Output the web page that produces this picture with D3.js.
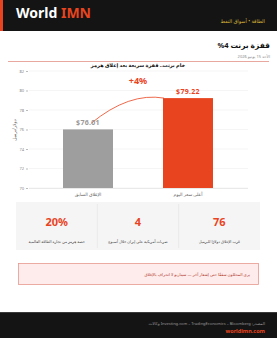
<!DOCTYPE html>
<html><head><meta charset="utf-8">
<script src="https://cdn.jsdelivr.net/npm/d3@7/dist/d3.min.js"></script>
<style>
html,body{margin:0;padding:0;background:#fff;}
svg{display:block;}
</style></head>
<body>
<svg id="c" width="277" height="338"></svg>
<script>
const categories = ["الإغلاق السابق", "أعلى سعر اليوم"];
const values = [76.01, 79.22];
const barLabels = ["$76.01", "$79.22"];
const yTicks = [70, 72, 74, 76, 78, 80, 82];
const statValues = ["20%", "4", "76"];
const statLabels = ["حصة هرمز من تجارة الطاقة العالمية", "ضربات أمريكية على إيران خلال أسبوع", "قرب الإغلاق دولارًا للبرميل"];
const changeLabel = "+4%";

const svg = d3.select("#c");
const F = "'Noto Sans', 'DejaVu Sans', sans-serif";
const RED = "#e8441f";

function rtl(sel){ return sel.attr("direction","rtl").attr("text-anchor","start"); }

// header
svg.append("rect").attr("x",0).attr("y",0).attr("width",277).attr("height",31).attr("fill","#141414");
svg.append("rect").attr("x",0).attr("y",0).attr("width",3).attr("height",31).attr("fill",RED);
const logo = svg.append("text").attr("x",16).attr("y",18).attr("font-family",F).attr("font-weight","bold").attr("font-size",14);
logo.append("tspan").attr("fill","#fff").text("World ");
logo.append("tspan").attr("fill",RED).text("IMN");
rtl(svg.append("text")).attr("x",265).attr("y",23).attr("font-family",F).attr("font-size",5).attr("fill","#d9b43a").text("الطاقة • أسواق النفط");

// title
rtl(svg.append("text")).attr("x",270).attr("y",48).attr("font-family",F).attr("font-weight","bold").attr("font-size",7.5).attr("fill","#111").text("قفزة برنت 4%");
rtl(svg.append("text")).attr("x",270).attr("y",57.5).attr("font-family",F).attr("font-size",4).attr("fill","#888").text("الأحد 15 يونيو 2026");
svg.append("line").attr("x1",8).attr("x2",269).attr("y1",61.5).attr("y2",61.5).attr("stroke","#e8a8a0").attr("stroke-width",1);

svg.append("text").attr("x",138).attr("y",67).attr("text-anchor","middle").attr("font-family",F).attr("font-weight","bold").attr("font-size",5).attr("fill","#111").text("خام برنت.. قفزة سريعة بعد إغلاق هرمز");

// chart
const y = d3.scaleLinear().domain([70, 82]).range([188, 71]);
const x = d3.scaleBand().domain(categories).range([38, 238]).paddingInner(0.5).paddingOuter(0.25);

const grid = svg.append("g");
grid.selectAll("line").data(yTicks).join("line")
  .attr("x1",29).attr("x2",248).attr("y1",d=>y(d)).attr("y2",d=>y(d))
  .attr("stroke","#eeeeee").attr("stroke-width",0.6);

const yAxis = d3.axisLeft(y).tickValues(yTicks).tickSize(2).tickPadding(2);
const ya = svg.append("g").attr("transform","translate(28,0)").call(yAxis);
ya.select(".domain").remove();
ya.selectAll("line").attr("stroke","#bbb");
ya.selectAll("text").attr("font-family",F).attr("font-size",4).attr("fill","#888");

svg.append("text").attr("transform","translate(16,130) rotate(-90)").attr("text-anchor","middle")
  .attr("font-family",F).attr("font-size",4.5).attr("fill","#555").text("دولار/برميل");

const colors = ["#9e9e9e", RED];
svg.selectAll("rect.bar").data(values).join("rect").attr("class","bar")
  .attr("x",(d,i)=>x(categories[i])).attr("width",x.bandwidth())
  .attr("y",d=>y(d)).attr("height",d=>y(70)-y(d))
  .attr("fill",(d,i)=>colors[i]);

svg.append("line").attr("x1",29).attr("x2",248).attr("y1",y(70)+0.5).attr("y2",y(70)+0.5).attr("stroke","#ddd").attr("stroke-width",0.6);

svg.selectAll("text.xl").data(categories).join("text").attr("class","xl")
  .attr("x",d=>x(d)+x.bandwidth()/2).attr("y",196).attr("text-anchor","middle")
  .attr("font-family",F).attr("font-size",4.5).attr("fill","#666").text(d=>d);

// curve
const x0 = x(categories[0]) + x.bandwidth()/2 + 3, y0 = y(values[0]) - 6;
const x1 = x(categories[1]) + 1, y1 = y(values[1]);
const p = d3.path();
p.moveTo(x0, y0);
p.quadraticCurveTo(x0 + 38, y1 - 6, x1, y1);
svg.append("path").attr("d", p.toString()).attr("fill","none").attr("stroke",RED).attr("stroke-width",0.8);

svg.selectAll("text.bl").data(values).join("text").attr("class","bl")
  .attr("x",(d,i)=>x(categories[i])+x.bandwidth()/2).attr("y",d=>y(d)-4).attr("text-anchor","middle")
  .attr("font-family",F).attr("font-weight","bold").attr("font-size",7).attr("letter-spacing",0.3)
  .attr("fill",(d,i)=>i===0?"#999":RED).text((d,i)=>barLabels[i]);

svg.append("text").attr("x",138).attr("y",84).attr("text-anchor","middle").attr("font-family",F)
  .attr("font-weight","bold").attr("font-size",9).attr("fill",RED).text(changeLabel);

// stats
svg.append("rect").attr("x",16).attr("y",202).attr("width",244).attr("height",48).attr("fill","#f5f5f5");
const cellW = 244/3;
[1,2].forEach(i=>svg.append("line").attr("x1",16+cellW*i).attr("x2",16+cellW*i).attr("y1",204).attr("y2",248).attr("stroke","#e2e2e2").attr("stroke-width",0.6));
statValues.forEach((v,i)=>{
  const cx = 16 + cellW*i + cellW/2;
  svg.append("text").attr("x",cx).attr("y",226).attr("text-anchor","middle").attr("font-family",F)
    .attr("font-weight","bold").attr("font-size",11).attr("fill",RED).text(v);
  svg.append("text").attr("x",cx).attr("y",243).attr("text-anchor","middle").attr("font-family",F)
    .attr("font-size",3.8).attr("fill","#444").text(statLabels[i]);
});

// alert
svg.append("rect").attr("x",18.5).attr("y",263.5).attr("width",240).attr("height",21).attr("fill","#fdeceb").attr("stroke","#e69a90").attr("stroke-width",0.8);
rtl(svg.append("text")).attr("x",250).attr("y",276).attr("font-family",F).attr("font-size",4).attr("fill","#b0332a")
  .text("يرى المحللون سقفًا حتى إشعار آخر — سيناريو لا انحراف بالإغلاق");

// footer
svg.append("rect").attr("x",0).attr("y",312).attr("width",277).attr("height",26).attr("fill","#141414");
svg.append("line").attr("x1",0).attr("x2",277).attr("y1",312.5).attr("y2",312.5).attr("stroke","#444").attr("stroke-width",0.8);
rtl(svg.append("text")).attr("x",265).attr("y",325).attr("font-family",F).attr("font-size",4).attr("fill","#999")
  .text("المصدر: Investing.com – TradingEconomics – Bloomberg وكالات");
svg.append("text").attr("x",265).attr("y",333).attr("text-anchor","end").attr("font-family",F).attr("font-weight","bold").attr("font-size",5.5).attr("fill",RED)
  .text("worldimn.com");
</script>
</body></html>
